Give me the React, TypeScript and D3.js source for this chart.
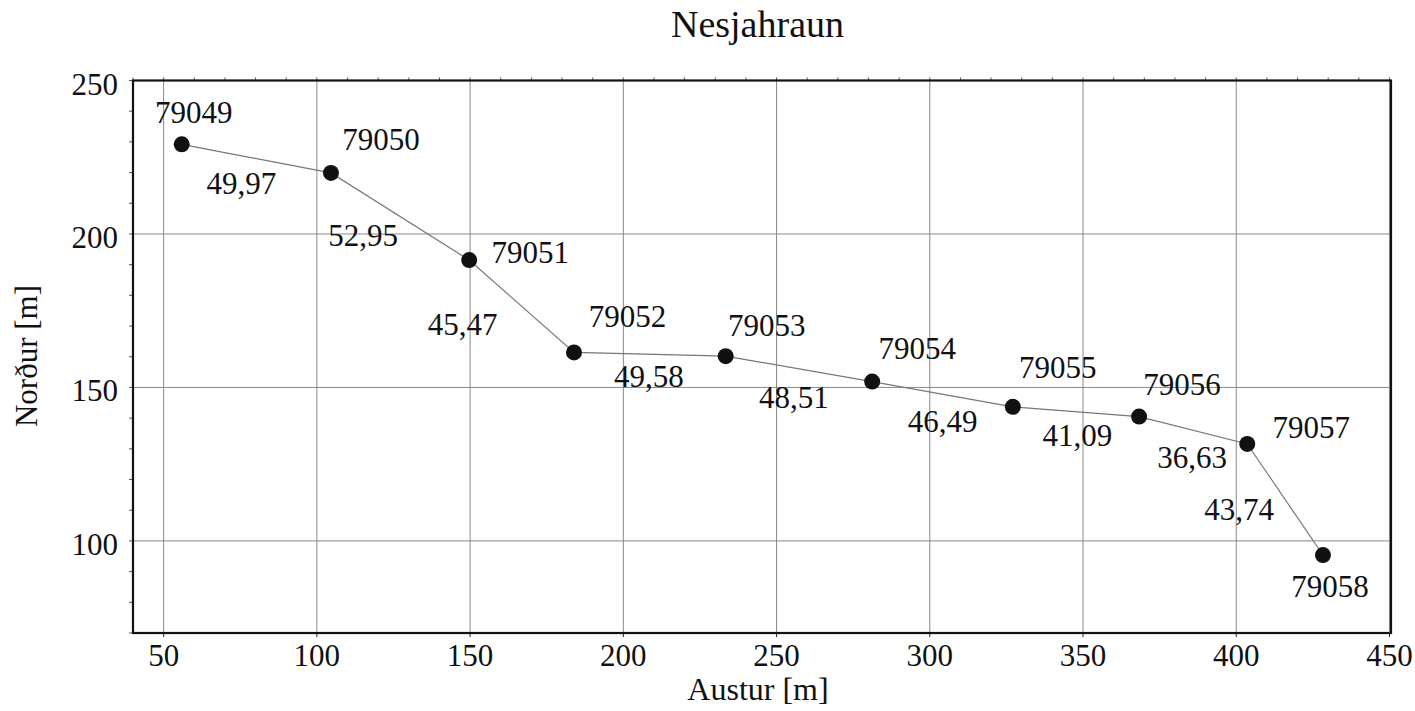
import React from "react";
import * as d3 from "d3";

const title = "Nesjahraun";
const xLabel = "Austur [m]";
const yLabel = "Norður [m]";
const pointNames = ["79049", "79050", "79051", "79052", "79053", "79054", "79055", "79056", "79057", "79058"];
const eastValues = [55.9, 104.6, 149.7, 183.9, 233.4, 281.2, 327.1, 368.3, 403.6, 428.3];
const northValues = [229.2, 219.9, 191.5, 161.4, 160.2, 151.9, 143.7, 140.5, 131.6, 95.4];
const distanceLabels = ["49,97", "52,95", "45,47", "49,58", "48,51", "46,49", "41,09", "36,63", "43,74"];
const xTicks = [50, 100, 150, 200, 250, 300, 350, 400, 450];
const yTicks = [100, 150, 200, 250];

// layout offsets (pixels) for labels
const nameOffsets: [number, number][] = [
  [12, -32], [50, -33], [61, -8], [53.5, -36], [41, -31], [45, -33], [45, -39], [43, -32], [64, -16], [7, 31.5],
];
const distOffsets: [number, number][] = [
  [-15, 25], [-37, 19.5], [-59, 18], [-1, 22], [-5, 29], [0, 27], [1.5, 24], [-1, 27.5], [-46, 10],
];

const W = 1415;
const H = 711;
const M = { left: 133, right: 1391, top: 80.5, bottom: 633 };
const FONT = "'Liberation Serif', 'Times New Roman', Times, serif";

export default function App() {
  const x = d3.scaleLinear().domain([40, 450.5]).range([M.left, M.right]);
  const y = d3.scaleLinear().domain([70, 250]).range([M.bottom, M.top]);
  const pts = eastValues.map((e, i) => [x(e), y(northValues[i])] as [number, number]);
  const line = d3.line<[number, number]>()(pts) || "";
  const minorX = d3.range(40, 451, 10);
  const minorY = d3.range(70, 251, 10);

  return (
    <svg width={W} height={H} style={{ position: "absolute", left: 0, top: 0, background: "#fff" }} fontFamily={FONT}>
      <rect x={0} y={0} width={W} height={H} fill="#fff" />
      <text x={757.5} y={37.3} textAnchor="middle" fontSize={38} fill="#111" fontFamily={FONT}>{title}</text>

      {/* grid */}
      {xTicks.map((t) => (
        <line key={"gx" + t} x1={x(t)} x2={x(t)} y1={M.top} y2={M.bottom} stroke="#888" strokeWidth={1} />
      ))}
      {yTicks.map((t) => (
        <line key={"gy" + t} x1={M.left} x2={M.right} y1={y(t)} y2={y(t)} stroke="#888" strokeWidth={1} />
      ))}

      {/* minor ticks */}
      {minorX.map((t) => (
        <line key={"mx" + t} x1={x(t)} x2={x(t)} y1={M.top - 3} y2={M.top} stroke="#555" strokeWidth={1} />
      ))}
      {minorY.map((t) => (
        <line key={"my" + t} x1={M.left - 4} x2={M.left} y1={y(t)} y2={y(t)} stroke="#555" strokeWidth={1} />
      ))}
      {xTicks.map((t) => (
        <line key={"tx" + t} x1={x(t)} x2={x(t)} y1={M.bottom} y2={M.bottom + 4} stroke="#222" strokeWidth={1} />
      ))}

      {/* frame */}
      <rect x={M.left} y={M.top} width={M.right - M.left} height={M.bottom - M.top} fill="none" stroke="#111" strokeWidth={2.2} />

      {/* tick labels */}
      {xTicks.map((t) => (
        <text key={"lx" + t} x={x(t)} y={666} textAnchor="middle" fontSize={31} fill="#111" fontFamily={FONT}>{t}</text>
      ))}
      {yTicks.map((t) => (
        <text key={"ly" + t} x={118} y={y(t) + 14} textAnchor="end" fontSize={31} fill="#111" fontFamily={FONT}>{t}</text>
      ))}

      <text x={758} y={700} textAnchor="middle" fontSize={32} fill="#111" fontFamily={FONT}>{xLabel}</text>
      <text transform={`translate(37, 356) rotate(-90)`} textAnchor="middle" fontSize={31} fill="#111" fontFamily={FONT}>{yLabel}</text>

      {/* traverse line */}
      <path d={line} fill="none" stroke="#777" strokeWidth={1.2} />
      {pts.map((p, i) => (
        <circle key={"c" + i} cx={p[0]} cy={p[1]} r={8} fill="#111" />
      ))}

      {pts.map((p, i) => (
        <text key={"n" + i} x={p[0] + nameOffsets[i][0]} y={p[1] + nameOffsets[i][1]} textAnchor="middle" dominantBaseline="central" fontSize={31} fill="#111" fontFamily={FONT}>
          {pointNames[i]}
        </text>
      ))}
      {distanceLabels.map((d, i) => {
        const mx = (pts[i][0] + pts[i + 1][0]) / 2;
        const my = (pts[i][1] + pts[i + 1][1]) / 2;
        return (
          <text key={"d" + i} x={mx + distOffsets[i][0]} y={my + distOffsets[i][1]} textAnchor="middle" dominantBaseline="central" fontSize={31} fill="#111" fontFamily={FONT}>
            {d}
          </text>
        );
      })}
    </svg>
  );
}
